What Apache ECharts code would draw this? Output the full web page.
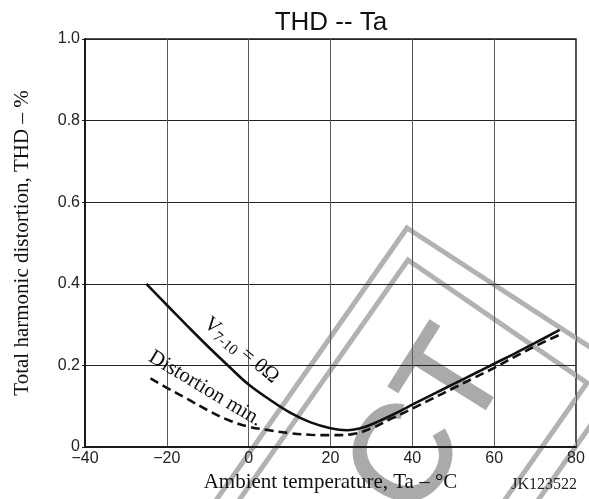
<!DOCTYPE html>
<html><head><meta charset="utf-8">
<script src="https://cdn.jsdelivr.net/npm/echarts@6/dist/echarts.min.js"></script>
<style>html,body{margin:0;padding:0;background:#fff}#c{width:589px;height:499px}</style>
</head><body><div id="c"></div>
<script>
// ---- data ----
const xTicks = [-40, -20, 0, 20, 40, 60, 80];
const yTicks = [0, 0.2, 0.4, 0.6, 0.8, 1.0];
const solidTemp = [-25, -20, -15, -10, -5, 0, 5, 10, 15, 20, 24, 28, 32, 36, 40, 45, 50, 55, 60, 65, 70, 76];
const solidTHD  = [0.400, 0.348, 0.297, 0.247, 0.199, 0.153, 0.117, 0.085, 0.061, 0.046, 0.041, 0.048, 0.064, 0.083, 0.104, 0.129, 0.154, 0.179, 0.204, 0.229, 0.255, 0.287];
const dashTemp  = [-24, -20, -15, -10, -5, 0, 5, 10, 15, 20, 25, 30, 35, 40, 45, 50, 55, 60, 65, 70, 76];
const dashTHD   = [0.168, 0.145, 0.118, 0.090, 0.066, 0.050, 0.041, 0.034, 0.030, 0.029, 0.031, 0.046, 0.070, 0.094, 0.119, 0.144, 0.169, 0.194, 0.221, 0.247, 0.275];
const titleText = 'THD -- Ta';
const xName = 'Ambient temperature, Ta \u2013 \u00B0C';
const yName = 'Total harmonic distortion, THD \u2013 %';
const solidLabel = '{n|V}{sub|7-10}{n| = 0\u03A9}';
const dashLabel = 'Distortion min.';
const figCode = 'JK123522';

// annotation anchors (data units)
const solidLabelAt = [-1.8, 0.237];
const dashLabelAt = [-10.6, 0.143];

const SANS = 'Liberation Sans, Arial, Helvetica, sans-serif';
const SERIF = 'Liberation Serif, Times New Roman, serif';

const solidData = solidTemp.map((t, i) => [t, solidTHD[i]]);
const dashData = dashTemp.map((t, i) => [t, dashTHD[i]]);

const chart = echarts.init(document.getElementById('c'), null, {renderer: 'canvas'});

const wm = '#b2b2b2';
const watermark = [
  {type: 'polygon', z: 1, silent: true,
   shape: {points: [[407, 228], [628, 372], [398, 700], [177, 556]]},
   style: {fill: 'none', stroke: wm, lineWidth: 5}},
  {type: 'polygon', z: 1, silent: true,
   shape: {points: [[408, 260], [587, 383], [357, 710], [178, 587]]},
   style: {fill: 'none', stroke: wm, lineWidth: 5}},
  {type: 'text', z: 1, silent: true, x: 479, y: 348, rotation: 58 * Math.PI / 180,
   style: {text: 'CT', fontSize: 136, fontFamily: SANS, fill: '#aaaaaa',
           stroke: '#aaaaaa', lineWidth: 2.5,
           textAlign: 'right', align: 'right', textVerticalAlign: 'middle', verticalAlign: 'middle'}}
];

const option = {
  backgroundColor: '#ffffff',
  animation: false,
  title: {
    text: titleText, left: 326, textAlign: 'center', top: 5,
    textStyle: {fontFamily: SANS, fontSize: 26, fontWeight: 'normal', color: '#111'}
  },
  grid: {left: 85, right: 13, top: 39, bottom: 52, show: true, borderColor: '#1a1a1a', borderWidth: 1.5,
         containLabel: false, outerBoundsMode: 'none'},
  xAxis: {
    type: 'value', min: xTicks[0], max: xTicks[xTicks.length - 1], interval: 20, z: 3,
    name: xName, nameLocation: 'middle', nameGap: 25,
    nameTextStyle: {fontFamily: SERIF, fontSize: 21, color: '#111'},
    axisLine: {show: true, onZero: false, lineStyle: {color: '#1a1a1a', width: 2}},
    axisTick: {show: false},
    splitLine: {show: true, lineStyle: {color: '#5a5a5a', width: 1}},
    axisLabel: {show: true, showMinLabel: true, showMaxLabel: true, margin: 4,
      fontFamily: SANS, fontSize: 16, color: '#222',
      formatter: v => v < 0 ? '\u2212' + (-v) : String(v)}
  },
  yAxis: {
    type: 'value', min: yTicks[0], max: yTicks[yTicks.length - 1], interval: 0.2, z: 3,
    name: yName, nameLocation: 'middle', nameGap: 52, nameRotate: 90,
    nameTextStyle: {fontFamily: SERIF, fontSize: 21, color: '#111'},
    axisLine: {show: true, onZero: false, lineStyle: {color: '#1a1a1a', width: 2}},
    axisTick: {show: true, length: 3, lineStyle: {color: '#1a1a1a', width: 1}},
    splitLine: {show: true, lineStyle: {color: '#222', width: 1}},
    axisLabel: {show: true, showMinLabel: true, showMaxLabel: true, margin: 5,
      fontFamily: SANS, fontSize: 16, color: '#222',
      formatter: v => v === 0 ? '0' : v.toFixed(1)}
  },
  series: [
    {type: 'line', name: 'V7-10 = 0', data: solidData, smooth: 0.4, symbol: 'none', z: 4,
     lineStyle: {color: '#111', width: 2.6, type: 'solid'}},
    {type: 'line', name: 'Distortion min.', data: dashData, smooth: 0.4, symbol: 'none', z: 4,
     lineStyle: {color: '#111', width: 2.6, type: [9, 5]}}
  ],
  graphic: watermark
};
chart.setOption(option);

const pS = chart.convertToPixel({gridIndex: 0}, solidLabelAt);
const pD = chart.convertToPixel({gridIndex: 0}, dashLabelAt);
chart.setOption({
  graphic: watermark.concat([
    {type: 'text', z: 5, x: pS[0], y: pS[1], rotation: -40 * Math.PI / 180,
     style: {text: solidLabel, fontFamily: SERIF, fontSize: 21, fill: '#111',
             textAlign: 'center', align: 'center', textVerticalAlign: 'middle', verticalAlign: 'middle',
             rich: {
               n: {fontFamily: SERIF, fontSize: 21, fill: '#111', color: '#111', lineHeight: 26, verticalAlign: 'middle'},
               sub: {fontFamily: SERIF, fontSize: 15, fill: '#111', color: '#111', lineHeight: 15, verticalAlign: 'bottom'}
             }}},
    {type: 'text', z: 5, x: pD[0], y: pD[1], rotation: -31 * Math.PI / 180,
     style: {text: dashLabel, fontFamily: SERIF, fontSize: 21, fill: '#111',
             textAlign: 'center', align: 'center', textVerticalAlign: 'middle', verticalAlign: 'middle'}},
    {type: 'text', z: 5, right: 12, bottom: 6,
     style: {text: figCode, fontFamily: SERIF, fontSize: 16, fill: '#222'}}
  ])
});
</script>
</body></html>
